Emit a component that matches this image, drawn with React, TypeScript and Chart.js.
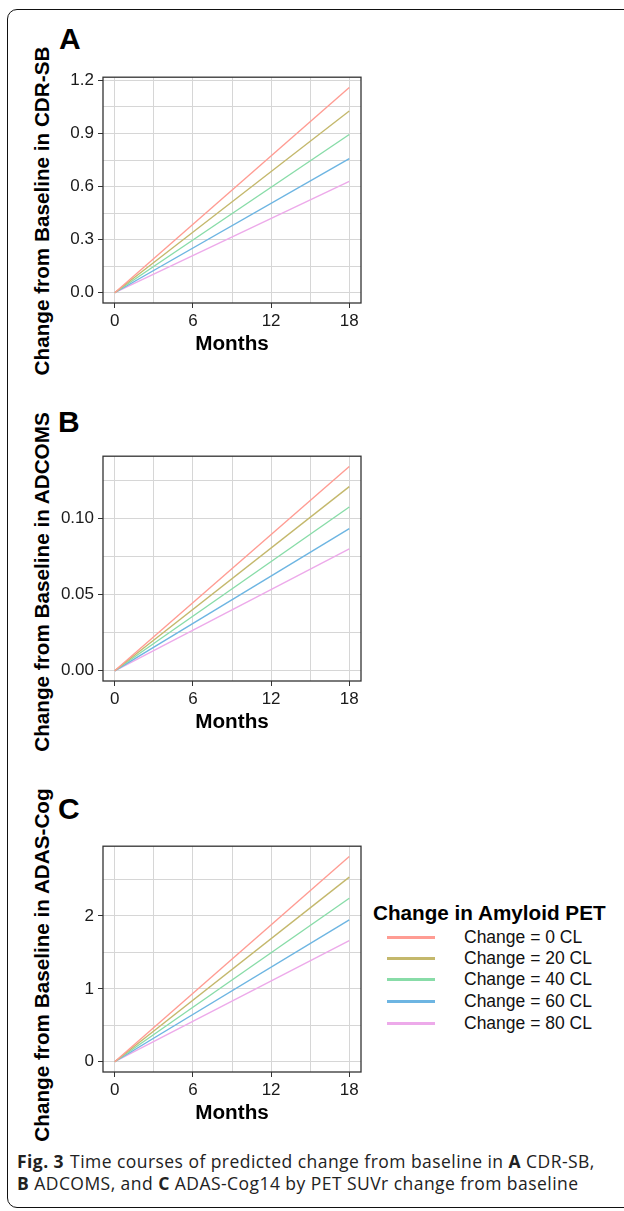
import React, { useEffect, useRef } from 'react';
import { Chart, registerables } from 'chart.js';

Chart.register(...registerables);

const FONT = "'Liberation Sans', Arial, Helvetica, sans-serif";

// Time axis (months) – predicted trajectories run from baseline to month 18
const months = [0, 18];
const monthTicks = [0, 3, 6, 9, 12, 15, 18];
const monthLabels = ['0', '', '6', '', '12', '', '18'];

const groupLabels = ['Change = 0 CL', 'Change = 20 CL', 'Change = 40 CL', 'Change = 60 CL', 'Change = 80 CL'];
const groupColors = ['#FF9C93', '#C4B86C', '#88DCA8', '#6DB5E2', '#EDAAEA'];

// Predicted change from baseline at month 0 and month 18, one row per amyloid group
const cdrSb = [
  [0, 1.16],
  [0, 1.027],
  [0, 0.894],
  [0, 0.758],
  [0, 0.629],
];
const adcoms = [
  [0, 0.1344],
  [0, 0.1211],
  [0, 0.1077],
  [0, 0.0935],
  [0, 0.0802],
];
const adasCog = [
  [0, 2.816],
  [0, 2.532],
  [0, 2.243],
  [0, 1.946],
  [0, 1.662],
];

// y ticks (major + minor grid) and their labels
const cdrSbTicks = [0, 0.15, 0.3, 0.45, 0.6, 0.75, 0.9, 1.05, 1.2];
const cdrSbLabels = ['0.0', '', '0.3', '', '0.6', '', '0.9', '', '1.2'];
const adcomsTicks = [0, 0.025, 0.05, 0.075, 0.1, 0.125];
const adcomsLabels = ['0.00', '', '0.05', '', '0.10', ''];
const adasTicks = [0, 0.5, 1, 1.5, 2, 2.5];
const adasLabels = ['0', '', '1', '', '2', ''];

const panelBorder = {
  id: 'panelBorder',
  afterDatasetsDraw(chart: any) {
    const { ctx, chartArea: a } = chart;
    ctx.save();
    ctx.strokeStyle = '#333333';
    ctx.lineWidth = 1.3;
    ctx.strokeRect(a.left, a.top, a.right - a.left, a.bottom - a.top);
    ctx.restore();
  },
};

type PanelProps = {
  values: number[][];
  yTicks: number[];
  yLabels: string[];
  top: number;
  height: number;
};

function Panel({ values, yTicks, yLabels, top, height }: PanelProps) {
  const ref = useRef<HTMLCanvasElement | null>(null);

  useEffect(() => {
    if (!ref.current) return;
    const yMax = Math.max(...values.flat());
    const yMin = Math.min(...values.flat());
    const span = yMax - yMin;
    const xSpan = months[months.length - 1] - months[0];

    const chart = new Chart(ref.current, {
      type: 'line',
      data: {
        datasets: values.map((row, i) => ({
          label: groupLabels[i],
          data: months.map((m, j) => ({ x: m, y: row[j] })),
          borderColor: groupColors[i],
          backgroundColor: groupColors[i],
          borderWidth: 1.4,
          pointRadius: 0,
          tension: 0,
          fill: false,
        })),
      },
      options: {
        animation: false,
        responsive: false,
        maintainAspectRatio: false,
        devicePixelRatio: 1,
        layout: { padding: { top: 10, right: 2, left: 0, bottom: 0 } },
        plugins: {
          legend: { display: false },
          tooltip: { enabled: false },
        },
        scales: {
          x: {
            type: 'linear',
            min: months[0] - xSpan * 0.05,
            max: months[months.length - 1] + xSpan * 0.05,
            afterBuildTicks: (s: any) => {
              s.ticks = monthTicks.map((v) => ({ value: v }));
            },
            afterFit: (s: any) => {
              s.height = 54;
            },
            ticks: {
              autoSkip: false,
              maxRotation: 0,
              padding: 3,
              color: '#1a1a1a',
              font: { family: FONT, size: 17 },
              callback: (_v: any, i: number) => monthLabels[i],
            },
            grid: {
              color: '#d6d6d6',
              lineWidth: 1,
              tickLength: 5,
              tickColor: (c: any) => (monthLabels[c.index] ? '#333333' : 'rgba(0,0,0,0)'),
            },
            border: { display: false },
            title: {
              display: true,
              text: 'Months',
              color: '#000',
              padding: 0,
              font: { family: FONT, size: 20.7, weight: 'bold' },
            },
          },
          y: {
            type: 'linear',
            min: yMin - span * 0.05,
            max: yMax + span * 0.05,
            afterBuildTicks: (s: any) => {
              s.ticks = yTicks.map((v) => ({ value: v }));
            },
            afterFit: (s: any) => {
              s.width = 50;
            },
            ticks: {
              autoSkip: false,
              padding: 4,
              color: '#1a1a1a',
              font: { family: FONT, size: 17 },
              callback: (_v: any, i: number) => yLabels[i],
            },
            grid: {
              color: '#d6d6d6',
              lineWidth: 1,
              tickLength: 5,
              tickColor: (c: any) => (yLabels[c.index] ? '#333333' : 'rgba(0,0,0,0)'),
            },
            border: { display: false },
          },
        },
      } as any,
      plugins: [panelBorder],
    });
    return () => chart.destroy();
  }, [values, yTicks, yLabels]);

  return (
    <canvas
      ref={ref}
      width={310}
      height={height}
      style={{ position: 'absolute', left: 53, top, width: 310, height }}
    />
  );
}

const letterStyle: React.CSSProperties = {
  position: 'absolute',
  fontFamily: FONT,
  fontWeight: 'bold',
  fontSize: 30,
  lineHeight: '30px',
  color: '#000',
};

function YTitle({ text, cy }: { text: string; cy: number }) {
  return (
    <div
      style={{
        position: 'absolute',
        left: 42,
        top: cy,
        transform: 'translate(-50%, -50%) rotate(-90deg)',
        whiteSpace: 'nowrap',
        fontFamily: FONT,
        fontWeight: 'bold',
        fontSize: 20.7,
        lineHeight: '24px',
        color: '#000',
      }}
    >
      {text}
    </div>
  );
}

export default function App() {
  const legendRows = [937, 958, 979, 1001, 1023];
  return (
    <div
      style={{
        position: 'absolute',
        left: 0,
        top: 0,
        width: 624,
        height: 1211,
        overflow: 'hidden',
        background: '#fff',
      }}
    >
      <div
        style={{
          position: 'absolute',
          left: 7,
          top: 9,
          width: 660,
          height: 1199,
          border: '1px solid #111',
          borderRadius: 10,
          boxSizing: 'border-box',
        }}
      />

      <div style={{ ...letterStyle, left: 59, top: 24 }}>A</div>
      <div style={{ ...letterStyle, left: 58, top: 407 }}>B</div>
      <div style={{ ...letterStyle, left: 58, top: 794 }}>C</div>

      <YTitle text="Change from Baseline in CDR-SB" cy={211} />
      <YTitle text="Change from Baseline in ADCOMS" cy={582} />
      <YTitle text="Change from Baseline in ADAS-Cog" cy={965} />

      <Panel values={cdrSb} yTicks={cdrSbTicks} yLabels={cdrSbLabels} top={63} height={294} />
      <Panel values={adcoms} yTicks={adcomsTicks} yLabels={adcomsLabels} top={442} height={293} />
      <Panel values={adasCog} yTicks={adasTicks} yLabels={adasLabels} top={832} height={294} />

      <div
        style={{
          position: 'absolute',
          left: 373,
          top: 901,
          fontFamily: FONT,
          fontWeight: 'bold',
          fontSize: 20.7,
          lineHeight: '24px',
          whiteSpace: 'nowrap',
          color: '#000',
        }}
      >
        Change in Amyloid PET
      </div>
      {groupLabels.map((label, i) => (
        <React.Fragment key={label}>
          <div
            style={{
              position: 'absolute',
              left: 387,
              top: legendRows[i] - 1.5,
              width: 48,
              height: 3,
              background: groupColors[i],
            }}
          />
          <div
            style={{
              position: 'absolute',
              left: 464,
              top: legendRows[i] - 11,
              fontFamily: FONT,
              fontSize: 17.5,
              lineHeight: '22px',
              whiteSpace: 'nowrap',
              color: '#111',
            }}
          >
            {label}
          </div>
        </React.Fragment>
      ))}

      <div
        style={{
          position: 'absolute',
          left: 17,
          top: 1150,
          fontFamily: "'Open Sans', sans-serif",
          fontSize: 17.5,
          letterSpacing: 0.45,
          lineHeight: '22px',
          whiteSpace: 'nowrap',
          color: '#222',
        }}
      >
        <div>
          <b style={{ marginRight: 6 }}>Fig. 3</b>Time courses of predicted change from baseline in <b>A</b> CDR-SB,
        </div>
        <div>
          <b>B</b> ADCOMS, and <b>C</b> ADAS-Cog14 by PET SUVr change from baseline
        </div>
      </div>
    </div>
  );
}
